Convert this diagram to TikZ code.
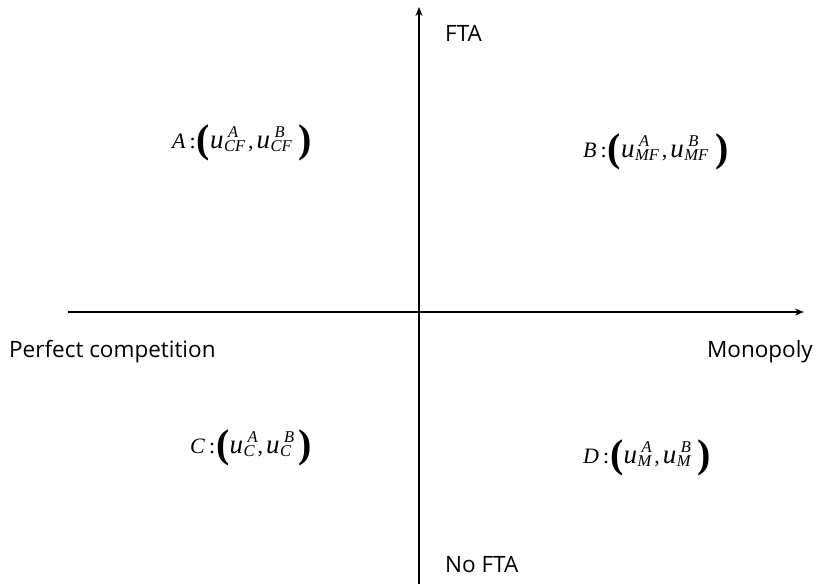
\documentclass[tikz,border=0pt]{standalone}
\usepackage{fontspec}
\setmainfont{Liberation Serif}
\newfontfamily\labelfont{Open Sans}
\usetikzlibrary{arrows.meta}
\newcommand{\scr}{\fontsize{16.5}{16.5}\selectfont\itshape}
\newcommand{\uterm}[2]{{\fontsize{27}{27}\selectfont\itshape u}\kern0.5pt\makebox[0pt][l]{\raisebox{11pt}{\scr\kern4pt #1}}\raisebox{-3.5pt}{\scr #2}}
\newcommand{\lpar}{\raisebox{-4.5pt}{\fontsize{40}{40}\selectfont\bfseries (}}
\newcommand{\rpar}{\raisebox{-4.5pt}{\fontsize{40}{40}\selectfont\bfseries )}}
\newcommand{\pair}[3]{\textit{#1}\kern4pt:\kern1pt\lpar\uterm{A}{#2}\kern3pt,\kern3pt\uterm{B}{#3}\kern7pt\rpar}
\tikzset{
  axis/.style={line width=1.2pt,-{Stealth[length=9pt,width=7pt]}},
  axlabel/.style={font=\labelfont\fontsize{22.5}{26}\selectfont,inner sep=0pt},
  pt/.style={font=\fontsize{22}{26}\selectfont,inner sep=0pt,anchor=base west}
}
\begin{document}
\begin{tikzpicture}[x=1pt,y=-1pt]
\useasboundingbox (0,0) rectangle (816,584);
\coordinate (vb) at (419,584);
\coordinate (vt) at (419,7);
\coordinate (hl) at (68,312);
\coordinate (hr) at (804,312);
\draw[axis] (vb) -- (vt);
\draw[axis] (hl) -- (hr);
\node[axlabel,anchor=west] (fta) at (445,33) {FTA};
\node[axlabel,anchor=west] (nofta) at (445,565) {No FTA};
\node[axlabel,anchor=west] (pc) at (9,352) {Perfect competition};
\node[axlabel,anchor=east] (mono) at (813,352) {Monopoly};
\node[pt] (A) at (172,148) {\pair{A}{CF}{CF}};
\node[pt] (B) at (583,157) {\pair{B}{MF}{MF}};
\node[pt] (C) at (190,453) {\pair{C}{C}{C}};
\node[pt] (D) at (583,463) {\pair{D}{M}{M}};
\end{tikzpicture}
\end{document}
